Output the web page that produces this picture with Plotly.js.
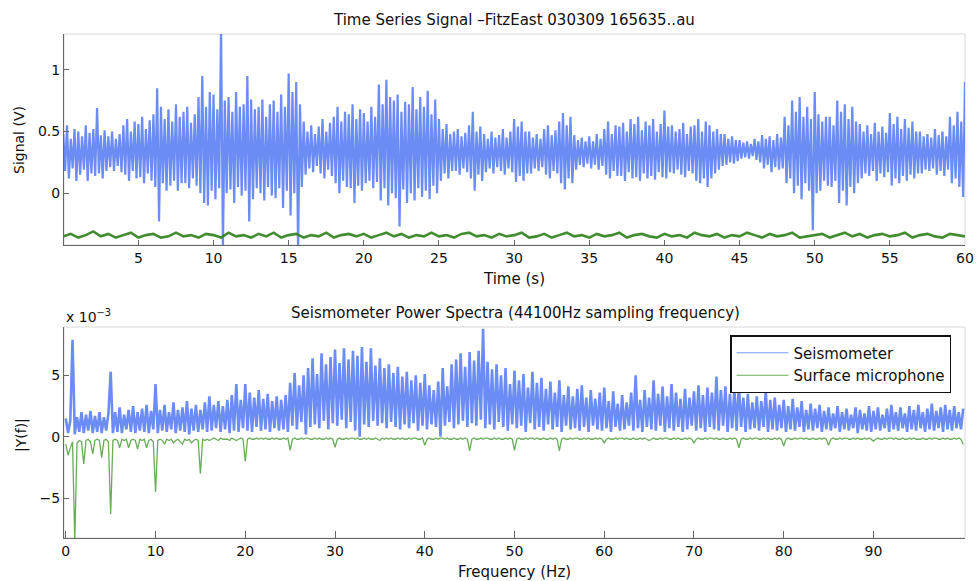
<!DOCTYPE html>
<html>
<head>
<meta charset="utf-8">
<script src="https://cdn.plot.ly/plotly-3.0.1.min.js"></script>
<style>html,body{margin:0;padding:0;background:#fff;}#chart{width:977px;height:581px;}</style>
</head>
<body>
<div id="chart"></div>
<script>
// ---------- DATA ----------
// Seismometer time series (sampled every 0.125 s, values in V)
const timeStep = 0.125;
const seismoSignal = [
  0.48,0.18,0.55,0.12,0.44,0.20,0.52,0.10, 0.50,0.15,0.46,0.19,0.55,0.10,0.49,0.16,
  0.52,0.14,0.69,0.16,0.47,0.12,0.51,0.18, 0.46,0.21,0.50,0.18,0.44,0.22,0.48,0.17,
  0.55,0.15,0.60,0.10,0.50,0.18,0.58,0.12, 0.56,0.13,0.62,0.08,0.52,0.16,0.59,0.10,
  0.64,0.05,0.85,-0.23,0.70,0.08,0.60,0.02, 0.68,0.06,0.58,0.10,0.72,0.02,0.62,0.08,
  0.66,0.08,0.70,0.04,0.57,0.12,0.64,0.06, 0.78,0.00,0.95,-0.08,0.70,-0.10,0.82,0.02,
  0.80,-0.05,0.68,0.04,1.35,-0.45,0.75,0.00, 0.78,0.03,0.66,-0.08,0.82,0.05,0.70,-0.02,
  0.72,0.02,0.95,-0.23,0.76,-0.05,0.68,0.04, 0.70,0.00,0.76,-0.06,0.62,0.05,0.72,-0.02,
  0.75,-0.04,0.66,0.04,0.80,-0.12,0.70,0.02, 0.97,-0.18,0.82,0.00,0.90,-0.45,0.72,0.05,
  0.58,0.15,0.50,0.20,0.55,0.17,0.48,0.22, 0.54,0.16,0.60,0.12,0.50,0.19,0.57,0.14,
  0.62,0.08,0.70,0.00,0.58,0.10,0.66,0.05, 0.64,0.04,0.72,-0.08,0.60,0.06,0.68,0.02,
  0.65,0.08,0.58,0.10,0.70,0.04,0.62,0.09, 0.88,-0.06,0.72,0.04,0.92,-0.10,0.78,0.00,
  0.75,-0.04,0.80,-0.27,0.66,0.03,0.74,-0.08, 0.72,0.00,0.86,-0.06,0.68,0.04,0.78,-0.03,
  0.70,0.02,0.83,-0.05,0.64,0.06,0.76,0.00, 0.60,0.10,0.52,0.16,0.56,0.12,0.48,0.18,
  0.50,0.18,0.52,0.15,0.46,0.20,0.49,0.17, 0.55,0.12,0.66,0.02,0.50,0.15,0.54,0.10,
  0.48,0.17,0.44,0.20,0.50,0.16,0.45,0.21, 0.47,0.18,0.52,0.15,0.45,0.20,0.50,0.17,
  0.60,0.09,0.54,0.14,0.58,0.10,0.50,0.16, 0.50,0.16,0.45,0.20,0.48,0.18,0.44,0.21,
  0.52,0.15,0.55,0.12,0.47,0.18,0.51,0.16, 0.58,0.08,0.65,0.03,0.55,0.12,0.62,0.08,
  0.47,0.19,0.43,0.23,0.45,0.21,0.42,0.24, 0.46,0.20,0.42,0.23,0.48,0.19,0.44,0.22,
  0.52,0.15,0.58,0.12,0.48,0.18,0.55,0.14, 0.54,0.14,0.57,0.10,0.50,0.17,0.60,0.12,
  0.56,0.13,0.62,0.10,0.51,0.16,0.58,0.12, 0.55,0.14,0.60,0.11,0.50,0.17,0.56,0.13,
  0.67,0.12,0.54,0.17,0.55,0.16,0.50,0.19, 0.52,0.15,0.57,0.13,0.48,0.18,0.54,0.16,
  0.55,0.10,0.60,0.08,0.50,0.12,0.58,0.05, 0.55,0.12,0.50,0.16,0.52,0.19,0.48,0.22,
  0.48,0.23,0.44,0.25,0.46,0.24,0.43,0.26, 0.43,0.28,0.41,0.29,0.42,0.28,0.40,0.30,
  0.44,0.27,0.42,0.25,0.47,0.20,0.44,0.23, 0.46,0.17,0.43,0.21,0.48,0.19,0.45,0.20,
  0.62,0.08,0.55,0.12,0.75,0.00,0.66,0.06, 0.78,-0.05,0.62,0.08,0.70,0.02,0.60,-0.30,
  0.82,0.00,0.64,0.02,0.58,0.10,0.62,0.06, 0.62,0.05,0.55,0.10,0.75,-0.08,0.66,0.02,
  0.72,-0.10,0.60,0.05,0.70,0.00,0.58,0.08, 0.56,0.12,0.50,0.16,0.55,0.14,0.48,0.18,
  0.57,0.10,0.50,0.16,0.54,0.13,0.49,0.17, 0.65,0.06,0.56,0.12,0.62,0.08,0.52,0.14,
  0.60,0.10,0.53,0.15,0.58,0.12,0.50,0.16, 0.50,0.16,0.46,0.19,0.48,0.18,0.45,0.20,
  0.52,0.15,0.47,0.18,0.50,0.14,0.46,0.19, 0.62,0.08,0.55,0.12,0.66,0.05,0.58,-0.03,
  0.90
];
// Microphone time series (sampled every 0.5 s, values in V)
const micStep = 0.5;
const micSignal = [
  -0.35,-0.33,-0.36,-0.34,-0.31,-0.35,-0.33,-0.36,-0.34,-0.32,
  -0.36,-0.34,-0.33,-0.36,-0.35,-0.32,-0.35,-0.34,-0.36,-0.33,
  -0.34,-0.36,-0.32,-0.35,-0.34,-0.36,-0.33,-0.35,-0.32,-0.36,
  -0.34,-0.33,-0.36,-0.34,-0.35,-0.32,-0.36,-0.34,-0.33,-0.35,
  -0.33,-0.36,-0.34,-0.32,-0.35,-0.33,-0.36,-0.34,-0.35,-0.32,
  -0.35,-0.34,-0.36,-0.33,-0.32,-0.35,-0.34,-0.36,-0.33,-0.35,
  -0.34,-0.32,-0.36,-0.35,-0.33,-0.36,-0.34,-0.32,-0.35,-0.34,
  -0.36,-0.33,-0.35,-0.34,-0.32,-0.36,-0.34,-0.33,-0.35,-0.36,
  -0.33,-0.35,-0.34,-0.36,-0.32,-0.34,-0.35,-0.33,-0.36,-0.34,
  -0.35,-0.32,-0.34,-0.36,-0.33,-0.35,-0.34,-0.32,-0.36,-0.35,
  -0.34,-0.33,-0.36,-0.34,-0.32,-0.35,-0.33,-0.36,-0.34,-0.33,
  -0.35,-0.34,-0.32,-0.36,-0.34,-0.33,-0.35,-0.36,-0.33,-0.34,
  -0.35
];
// Spectra (sampled every 0.25 Hz, values in units of 10^-3)
const freqStep = 0.25;
const seismoSpectrum = [
  1.5,0.3,1.3,7.9, 0.2,1.6,0.4,2.0, 0.3,1.8,0.5,2.1, 0.3,1.7,0.4,2.0, 0.3,1.6,0.5,1.9,
  5.3,0.3,2.0,0.4, 2.4,0.3,1.8,0.6, 2.2,0.4,2.5,0.3, 2.0,0.5,2.3,0.4, 2.6,0.3,2.1,0.6,
  4.3,0.3,2.2,0.5, 2.6,0.4,2.0,0.6, 2.8,0.3,2.2,0.5, 2.4,0.4,2.9,0.2, 2.3,0.5,2.6,0.4,
  2.2,0.6,2.8,0.4, 3.3,0.5,2.6,0.7, 2.9,0.4,2.5,0.6, 3.0,0.3,3.4,0.5, 4.3,0.4,3.0,0.7,
  4.3,0.5,3.6,0.4, 3.2,0.8,3.8,0.5, 3.1,0.6,3.5,0.4, 2.9,0.7,3.3,0.5, 3.0,0.6,3.4,0.4,
  4.4,0.9,5.2,0.6, 4.2,1.2,5.0,0.2, 5.6,0.8,6.4,1.0, 5.1,0.7,6.8,1.3, 5.9,0.6,6.5,1.1,
  7.1,0.9,6.0,1.4, 7.2,0.7,6.3,1.2, 7.0,0.5,6.6,0.0, 7.3,1.0,6.1,0.8, 7.2,1.3,5.8,0.9,
  6.4,1.1,5.6,0.7, 5.9,1.2,5.2,0.8, 5.7,0.6,4.9,1.0, 5.3,0.7,4.6,1.1, 5.0,0.5,4.4,0.9,
  5.1,0.6,4.2,1.0, 3.8,0.8,4.5,0.0, 5.6,0.9,4.1,1.2, 5.9,0.7,6.3,1.0, 6.8,1.3,5.7,0.8,
  6.9,1.1,6.2,0.9, 7.0,1.4,8.8,0.7, 6.1,1.0,5.5,0.6, 5.9,1.2,5.0,0.8, 5.6,0.5,4.3,1.0,
  5.4,0.7,4.6,0.9, 5.1,0.4,4.0,1.1, 5.3,0.6,4.4,0.8, 4.8,0.5,3.9,1.0, 4.5,0.6,3.6,0.8,
  4.6,0.4,3.4,0.9, 4.1,0.6,3.3,0.7, 3.9,0.5,4.2,0.8, 3.2,0.4,3.8,0.9, 3.1,0.6,3.6,0.5,
  4.0,0.7,2.9,0.4, 3.7,0.8,2.7,0.5, 3.4,0.6,2.8,0.9, 3.6,0.5,5.0,0.7, 3.0,0.4,3.8,0.8,
  3.2,0.6,4.6,0.5, 3.5,0.9,4.1,0.4, 3.3,0.7,4.3,0.5, 3.6,0.8,3.1,0.4, 3.9,0.6,3.2,0.9,
  3.7,0.5,4.2,0.7, 3.4,0.4,4.0,0.8, 3.6,0.6,4.9,0.5, 3.8,0.9,4.1,0.4, 3.5,0.7,3.9,0.5,
  4.4,0.8,3.2,0.4, 3.5,0.6,2.8,0.7, 3.3,0.5,2.9,0.8, 3.7,0.4,3.0,0.6, 3.2,0.5,2.6,0.7,
  3.0,0.4,2.5,0.6, 3.1,0.5,2.4,0.8, 2.9,0.4,2.2,0.6, 2.7,0.5,2.3,0.7, 2.6,0.4,2.1,0.6,
  2.4,0.5,1.9,0.7, 2.5,0.4,2.0,0.6, 2.3,0.5,1.8,0.7, 2.4,0.3,2.2,0.6, 1.9,0.5,2.5,0.4,
  2.1,0.6,2.4,0.5, 1.8,0.7,2.3,0.4, 2.6,0.6,2.0,0.5, 2.4,0.7,1.9,0.4, 2.5,0.6,2.2,0.5,
  2.6,0.7,2.0,0.4, 2.3,0.6,2.7,0.5, 2.1,0.7,2.4,0.4, 2.6,0.6,2.2,0.5, 2.5,0.7,2.0,0.6,
  2.3
];
const micSpectrum = [
  -0.6,-1.5,-0.9,-0.4, -8.6,-0.5,-0.3,-0.4, -2.2,-0.3,-0.2,-0.4, -1.4,-0.3,-0.2,-0.3, -1.7,-0.3,-0.2,-0.4,
  -6.3,-0.3,-0.2,-0.3, -0.9,-0.2,-0.3,-0.2, -0.9,-0.3,-0.2,-0.3, -1.0,-0.2,-0.3,-0.2, -0.9,-0.3,-0.2,-0.4,
  -4.5,-0.3,-0.2,-0.3, -0.6,-0.2,-0.3,-0.2, -0.5,-0.3,-0.2,-0.4, -0.6,-0.2,-0.3,-0.2, -0.5,-0.3,-0.2,-0.3,
  -3.0,-0.2,-0.3,-0.2, -0.3,-0.2,-0.1,-0.2, -0.3,-0.1,-0.2,-0.2, -0.2,-0.3,-0.1,-0.2, -0.3,-0.2,-0.1,-0.2,
  -2.0,-0.2,-0.1,-0.2, -0.2,-0.1,-0.2,-0.1, -0.2,-0.1,-0.2,-0.2, -0.1,-0.2,-0.1,-0.2, -0.2,-0.1,-0.2,-0.1,
  -1.1,-0.2,-0.1,-0.2, -0.2,-0.1,-0.2,-0.1, -0.1,-0.2,-0.2,-0.1, -0.2,-0.1,-0.2,-0.2, -0.1,-0.2,-0.1,-0.2,
  -0.85,-0.2,-0.1,-0.2, -0.2,-0.1,-0.2,-0.1, -0.1,-0.2,-0.1,-0.2, -0.2,-0.1,-0.2,-0.1, -0.2,-0.2,-0.1,-0.2,
  -0.3,-0.1,-0.2,-0.1, -0.2,-0.1,-0.2,-0.2, -0.1,-0.2,-0.1,-0.2, -0.2,-0.1,-0.2,-0.1, -0.1,-0.2,-0.2,-0.1,
  -0.7,-0.2,-0.1,-0.2, -0.2,-0.1,-0.2,-0.1, -0.1,-0.2,-0.1,-0.2, -0.2,-0.1,-0.2,-0.2, -0.1,-0.2,-0.1,-0.2,
  -1.15,-0.2,-0.1,-0.2, -0.2,-0.1,-0.2,-0.1, -0.1,-0.2,-0.2,-0.1, -0.2,-0.1,-0.2,-0.2, -0.1,-0.2,-0.1,-0.2,
  -1.1,-0.2,-0.1,-0.2, -0.2,-0.1,-0.2,-0.1, -0.1,-0.2,-0.1,-0.2, -0.2,-0.1,-0.2,-0.2, -0.1,-0.2,-0.1,-0.2,
  -1.15,-0.2,-0.1,-0.2, -0.2,-0.1,-0.2,-0.1, -0.1,-0.2,-0.2,-0.1, -0.2,-0.1,-0.2,-0.2, -0.1,-0.2,-0.1,-0.2,
  -0.5,-0.2,-0.1,-0.2, -0.2,-0.1,-0.2,-0.1, -0.1,-0.2,-0.1,-0.2, -0.2,-0.1,-0.2,-0.2, -0.1,-0.2,-0.1,-0.2,
  -0.3,-0.2,-0.1,-0.2, -0.2,-0.1,-0.2,-0.1, -0.1,-0.2,-0.2,-0.1, -0.2,-0.1,-0.2,-0.2, -0.1,-0.2,-0.1,-0.2,
  -0.5,-0.2,-0.1,-0.2, -0.2,-0.1,-0.2,-0.1, -0.1,-0.2,-0.1,-0.2, -0.2,-0.1,-0.2,-0.2, -0.1,-0.2,-0.1,-0.2,
  -0.9,-0.2,-0.1,-0.2, -0.2,-0.1,-0.2,-0.1, -0.1,-0.2,-0.2,-0.1, -0.2,-0.1,-0.2,-0.2, -0.1,-0.2,-0.1,-0.2,
  -0.75,-0.2,-0.1,-0.2, -0.2,-0.1,-0.2,-0.1, -0.1,-0.2,-0.1,-0.2, -0.2,-0.1,-0.2,-0.2, -0.1,-0.2,-0.1,-0.2,
  -0.7,-0.2,-0.1,-0.2, -0.2,-0.1,-0.2,-0.1, -0.1,-0.2,-0.2,-0.1, -0.2,-0.1,-0.2,-0.2, -0.1,-0.2,-0.1,-0.2,
  -0.35,-0.2,-0.1,-0.2, -0.2,-0.1,-0.2,-0.1, -0.1,-0.2,-0.1,-0.2, -0.2,-0.1,-0.2,-0.2, -0.1,-0.2,-0.1,-0.2,
  -0.2,-0.2,-0.1,-0.2, -0.2,-0.1,-0.2,-0.1, -0.1,-0.2,-0.2,-0.1, -0.2,-0.1,-0.2,-0.2, -0.1,-0.2,-0.1,-0.2,
  -0.6
];
const seriesNames = ['Seismometer', 'Surface microphone'];
const timeTicks = [5,10,15,20,25,30,35,40,45,50,55,60];
const freqTicks = [0,10,20,30,40,50,60,70,80,90];

// ---------- BUILD ----------
const time = seismoSignal.map((_, i) => i * timeStep);
const micTime = micSignal.map((_, i) => i * micStep);
const freq = seismoSpectrum.map((_, i) => i * freqStep);
const micFreq = micSpectrum.map((_, i) => i * freqStep);

const BLUE = 'rgba(50,95,240,0.72)';
const BLUE_LEG = 'rgba(80,120,245,0.75)';
const GREEN_TOP = 'rgba(50,130,30,0.92)';
const GREEN_BOT = 'rgba(60,150,40,0.78)';
const FONT = 'DejaVu Sans, Verdana, sans-serif';

const traces = [
  {x: time, y: seismoSignal, xaxis: 'x', yaxis: 'y', type: 'scatter', mode: 'lines',
   line: {color: BLUE, width: 2.2}, showlegend: false, name: seriesNames[0]},
  {x: micTime, y: micSignal, xaxis: 'x', yaxis: 'y', type: 'scatter', mode: 'lines',
   line: {color: GREEN_TOP, width: 2.6}, showlegend: false, name: seriesNames[1]},
  {x: freq, y: seismoSpectrum, xaxis: 'x2', yaxis: 'y2', type: 'scatter', mode: 'lines',
   line: {color: BLUE, width: 2.6}, showlegend: false, name: seriesNames[0]},
  {x: micFreq, y: micSpectrum, xaxis: 'x2', yaxis: 'y2', type: 'scatter', mode: 'lines',
   line: {color: GREEN_BOT, width: 1.3}, showlegend: false, name: seriesNames[1]},
  // legend keys (no data of their own)
  {x: [null], y: [null], xaxis: 'x2', yaxis: 'y2', type: 'scatter', mode: 'lines',
   line: {color: BLUE_LEG, width: 1.2}, name: seriesNames[0]},
  {x: [null], y: [null], xaxis: 'x2', yaxis: 'y2', type: 'scatter', mode: 'lines',
   line: {color: GREEN_BOT, width: 1.2}, name: seriesNames[1]}
];

const W = 977, H = 581;
const px = v => v / W, py = v => 1 - v / H;

const axisCommon = {
  showgrid: false, zeroline: false, showline: true, linecolor: '#666', linewidth: 1,
  ticks: 'inside', ticklen: 5, tickcolor: '#666', mirror: false,
  tickfont: {family: FONT, size: 14, color: '#111'}, fixedrange: true
};

const layout = {
  width: W, height: H,
  margin: {l: 0, r: 0, t: 0, b: 0},
  paper_bgcolor: '#fff', plot_bgcolor: '#fff',
  font: {family: FONT, color: '#111'},
  xaxis: Object.assign({}, axisCommon, {domain: [px(64), px(965)], range: [0.05, 60], tickvals: timeTicks, anchor: 'y'}),
  yaxis: Object.assign({}, axisCommon, {domain: [py(245), py(34)], range: [-0.42, 1.29], tickvals: [0, 0.5, 1], ticktext: ['0', '0.5', '1'], anchor: 'x'}),
  xaxis2: Object.assign({}, axisCommon, {domain: [px(64), px(965)], range: [-0.2, 100.2], tickvals: freqTicks, anchor: 'y2', ticklen: 7}),
  yaxis2: Object.assign({}, axisCommon, {domain: [py(538), py(327)], range: [-8.24, 8.94], tickvals: [-5, 0, 5], ticktext: ['\u22125', '0', '5'], anchor: 'x2'}),
  showlegend: true,
  legend: {
    x: px(730), y: py(335), xanchor: 'left', yanchor: 'top',
    bgcolor: '#fff', bordercolor: '#111', borderwidth: 1.5,
    font: {family: FONT, size: 15, color: '#111'},
    tracegroupgap: 0, itemwidth: 52
  },
  shapes: [
    {type: 'rect', xref: 'x domain', yref: 'y domain', x0: 0, x1: 1, y0: 0, y1: 1, line: {color: '#d8d8d8', width: 1}, layer: 'below'},
    {type: 'rect', xref: 'x2 domain', yref: 'y2 domain', x0: 0, x1: 1, y0: 0, y1: 1, line: {color: '#d8d8d8', width: 1}, layer: 'below'}
  ],
  annotations: [
    {text: 'Time Series Signal \u2013FitzEast 030309 165635..au', xref: 'paper', yref: 'paper', x: px(514), y: py(20), showarrow: false, xanchor: 'center', yanchor: 'middle', font: {family: FONT, size: 15}},
    {text: 'Time (s)', xref: 'paper', yref: 'paper', x: px(514), y: py(279), showarrow: false, xanchor: 'center', yanchor: 'middle', font: {family: FONT, size: 15}},
    {text: 'Signal (V)', xref: 'paper', yref: 'paper', x: px(19), y: py(140), showarrow: false, textangle: -90, xanchor: 'center', yanchor: 'middle', font: {family: FONT, size: 14}},
    {text: 'Seismometer Power Spectra (44100Hz sampling frequency)', xref: 'paper', yref: 'paper', x: px(515), y: py(313), showarrow: false, xanchor: 'center', yanchor: 'middle', font: {family: FONT, size: 15}},
    {text: 'x 10<sup>\u22123</sup>', xref: 'paper', yref: 'paper', x: px(64), y: py(316), showarrow: false, xanchor: 'left', yanchor: 'middle', font: {family: FONT, size: 14}},
    {text: 'Frequency (Hz)', xref: 'paper', yref: 'paper', x: px(514), y: py(572), showarrow: false, xanchor: 'center', yanchor: 'middle', font: {family: FONT, size: 15}},
    {text: '|Y(f)|', xref: 'paper', yref: 'paper', x: px(21), y: py(435), showarrow: false, textangle: -90, xanchor: 'center', yanchor: 'middle', font: {family: FONT, size: 14}}
  ]
};

Plotly.newPlot('chart', traces, layout, {staticPlot: true, displayModeBar: false});
</script>
</body>
</html>
